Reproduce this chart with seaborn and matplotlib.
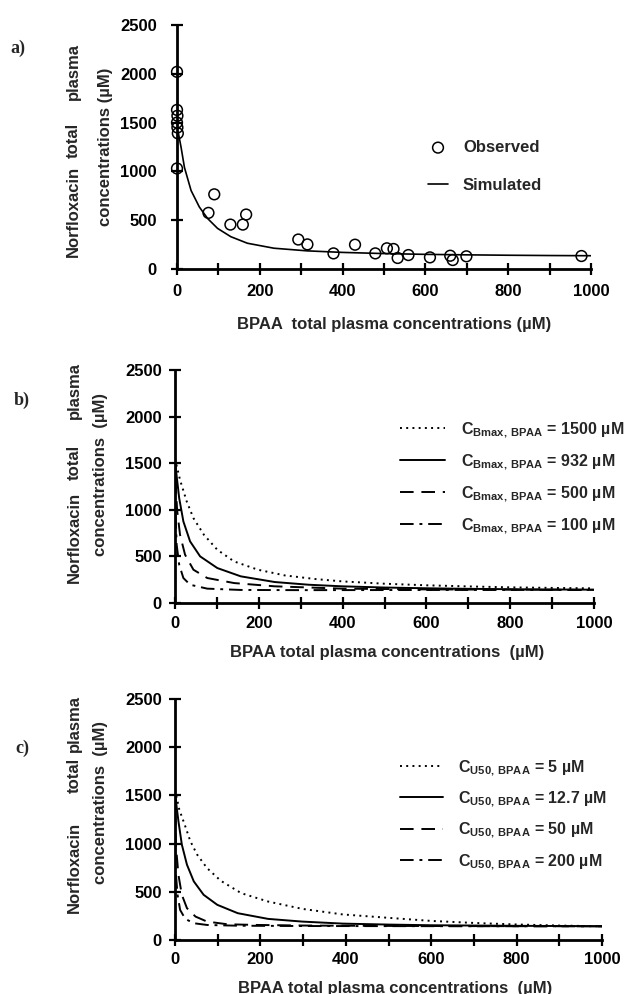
import matplotlib
matplotlib.use("Agg")
import pandas as pd
import matplotlib.pyplot as plt
import seaborn as sns

W, H = 624, 994

# a) observed points and fitted curve
obs_x = [0, 0, 1, 0, 1, 2, 0, 76, 90, 129, 159, 167, 293, 315, 378, 430,
         479, 507, 523, 533, 559, 611, 660, 666, 699, 977]
obs_y = [2020, 1630, 1570, 1500, 1450, 1390, 1030, 575, 765, 455, 455, 558,
         302, 252, 160, 249, 160, 212, 205, 113, 143, 119, 136, 92, 130, 133]
sim_x = [3, 10, 18, 34, 54, 74, 98, 130, 170, 234, 314, 400, 500, 600, 700,
         800, 900, 1000]
sim_y = [1400, 1243, 1040, 804, 635, 517, 416, 331, 264, 213, 186, 170, 158,
         150, 145, 141, 138, 136]

# b) C_Bmax,BPAA
b1500_x = [0, 12, 28, 44, 69, 101, 141, 198, 262, 335, 399, 500, 600, 700, 800, 900, 1000]
b1500_y = [1550, 1321, 1089, 911, 732, 571, 446, 357, 296, 257, 232, 207, 190, 178, 168, 162, 157]
b932_x = [0, 3, 10, 20, 36, 60, 101, 157, 238, 319, 399, 500, 600, 700, 800, 900, 1000]
b932_y = [1550, 1400, 1125, 875, 661, 500, 375, 286, 225, 196, 179, 166, 158, 152, 148, 145, 143]
b500_x = [0, 2, 5, 12, 24, 44, 77, 141, 238, 399, 600, 800, 1000]
b500_y = [1550, 1250, 1000, 732, 518, 357, 268, 214, 179, 154, 146, 143, 141]
b100_x = [0, 1, 4, 10, 20, 36, 77, 157, 300, 500, 700, 1000]
b100_y = [1550, 1000, 625, 411, 268, 196, 154, 140, 138, 139, 140, 140]

# c) C_U50,BPAA
c5_x = [0, 10, 24, 36, 52, 75, 107, 155, 218, 298, 393, 500, 600, 700, 800, 900, 1000]
c5_y = [1560, 1354, 1180, 1024, 885, 746, 615, 486, 399, 323, 265, 230, 198, 177, 161, 150, 142]
c127_x = [0, 8, 16, 28, 44, 67, 99, 147, 218, 298, 393, 500, 600, 800, 1000]
c127_y = [1520, 1233, 990, 781, 608, 469, 365, 278, 219, 191, 170, 160, 153, 147, 143]
c50_x = [0, 2, 8, 16, 28, 48, 75, 123, 194, 300, 500, 700, 1000]
c50_y = [1550, 990, 677, 469, 330, 243, 191, 163, 156, 150, 146, 144, 142]
c200_x = [0, 1, 6, 12, 24, 44, 75, 150, 300, 500, 700, 1000]
c200_y = [1550, 747, 469, 312, 219, 174, 156, 148, 145, 144, 143, 142]

b_labels = [r"C$_{\mathbf{Bmax,\,BPAA}}$ = 1500 µM", r"C$_{\mathbf{Bmax,\,BPAA}}$ = 932 µM",
            r"C$_{\mathbf{Bmax,\,BPAA}}$ = 500 µM", r"C$_{\mathbf{Bmax,\,BPAA}}$ = 100 µM"]
c_labels = [r"C$_{\mathbf{U50,\,BPAA}}$ = 5 µM", r"C$_{\mathbf{U50,\,BPAA}}$ = 12.7 µM",
            r"C$_{\mathbf{U50,\,BPAA}}$ = 50 µM", r"C$_{\mathbf{U50,\,BPAA}}$ = 200 µM"]

sns.set_theme(style="ticks")
plt.rcParams['font.family'] = ['Liberation Sans', 'DejaVu Sans']
plt.rcParams['mathtext.fontset'] = 'custom'
plt.rcParams['mathtext.rm'] = 'Liberation Sans:bold'
plt.rcParams['mathtext.bf'] = 'Liberation Sans:bold'

FS = 12
DASHES = {0: (1, 2.2), 1: "", 2: (7, 4), 3: (7, 3, 1.5, 3)}


def fx(px):
    return px / W


def fy(py):
    return 1 - py / H


def style_axes(ax, xpad, ypad):
    ax.set_xlim(0, 1000)
    ax.set_ylim(0, 2500)
    ax.set_xticks(range(0, 1001, 200))
    ax.set_xticks(range(100, 1000, 200), minor=True)
    ax.set_yticks(range(0, 2501, 500))
    for s in ['top', 'right']:
        ax.spines[s].set_visible(False)
    for s in ['left', 'bottom']:
        ax.spines[s].set_linewidth(2)
        ax.spines[s].set_color('black')
    ax.tick_params(which='both', direction='inout', length=9, width=1.6, colors='black', labelsize=FS)
    ax.tick_params(axis='x', pad=xpad)
    ax.tick_params(axis='y', pad=ypad)
    for t in ax.get_xticklabels() + ax.get_yticklabels():
        t.set_fontweight('bold')
    ax.set_xlabel('')
    ax.set_ylabel('')


def ylabel(x1, x2, y_bot, y_mid, y_top, y2, second):
    kw = dict(rotation=90, fontsize=FS, fontweight='bold', ha='center')
    fig.text(fx(x1), fy(y_bot), "Norfloxacin", va='bottom', **kw)
    fig.text(fx(x1), fy(y_mid), "total", va='center', **kw)
    fig.text(fx(x1), fy(y_top), "plasma", va='top', **kw)
    fig.text(fx(x2), fy(y2), second, va='center', **kw)


def curve_panel(ax, xs, ys):
    frames = []
    for i, (x, y) in enumerate(zip(xs, ys)):
        frames.append(pd.DataFrame({'x': x, 'y': y, 'curve': i}))
    df = pd.concat(frames)
    sns.lineplot(data=df, x='x', y='y', style='curve', dashes=DASHES, color='black',
                 linewidth=1.4, estimator=None, sort=False, ax=ax)
    handles, _ = ax.get_legend_handles_labels()
    return handles[-4:]


fig = plt.figure(figsize=(W / 100, H / 100), dpi=100)

# ---- a)
ax_a = fig.add_axes([fx(177), fy(269), fx(591) - fx(177), fy(25) - fy(269)])
sns.lineplot(x=sim_x, y=sim_y, color='black', linewidth=1.2, ax=ax_a, label='Simulated')
sns.scatterplot(x=obs_x, y=obs_y, marker='o', s=60, facecolor='none', edgecolor='black',
                linewidth=1.1, ax=ax_a, label='Observed', clip_on=False, zorder=5)
style_axes(ax_a, 6, 10)
h, l = ax_a.get_legend_handles_labels()
ax_a.legend([h[1], h[0]], ['Observed', 'Simulated'], loc='upper left',
            bbox_to_anchor=(fx(428), fy(140)), bbox_transform=fig.transFigure,
            frameon=False, borderpad=0, borderaxespad=0, handlelength=1.2,
            handletextpad=0.9, labelspacing=1.35, prop={'weight': 'bold', 'size': FS})
ylabel(73, 105, 257, 140, 43, 147, "concentrations (µM)")
fig.text(fx(394), fy(325), "BPAA  total plasma concentrations (µM)", ha='center', va='center',
         fontsize=FS, fontweight='bold')
fig.text(fx(18), fy(48), "a)", ha='center', va='center', fontsize=13, fontweight='bold',
         family='Liberation Serif')

# ---- b)
ax_b = fig.add_axes([fx(175), fy(603), fx(594) - fx(175), fy(370) - fy(603)])
hb = curve_panel(ax_b, [b1500_x, b932_x, b500_x, b100_x], [b1500_y, b932_y, b500_y, b100_y])
style_axes(ax_b, 5, 5)
ax_b.legend(hb, b_labels, loc='upper left', bbox_to_anchor=(fx(400), fy(420)),
            bbox_transform=fig.transFigure, frameon=False, borderpad=0, borderaxespad=0,
            handlelength=2.8, handletextpad=1.0, labelspacing=0.78,
            prop={'weight': 'bold', 'size': 11.5})
ylabel(74, 101, 583, 462, 362, 475, "concentrations  (µM)")
fig.text(fx(387), fy(653), "BPAA total plasma concentrations  (µM)", ha='center', va='center',
         fontsize=FS, fontweight='bold')
fig.text(fx(22), fy(400), "b)", ha='center', va='center', fontsize=13, fontweight='bold',
         family='Liberation Serif')

# ---- c)
ax_c = fig.add_axes([fx(175), fy(940), fx(602) - fx(175), fy(699) - fy(940)])
hc = curve_panel(ax_c, [c5_x, c127_x, c50_x, c200_x], [c5_y, c127_y, c50_y, c200_y])
style_axes(ax_c, 4, 5)
ax_c.legend(hc, c_labels, loc='upper left', bbox_to_anchor=(fx(400), fy(758)),
            bbox_transform=fig.transFigure, frameon=False, borderpad=0, borderaxespad=0,
            handlelength=2.7, handletextpad=0.9, labelspacing=0.74,
            prop={'weight': 'bold', 'size': 11.5})
ylabel(74, 101, 913, 775, 695, 803, "concentrations  (µM)")
fig.text(fx(395), fy(988), "BPAA total plasma concentrations  (µM)", ha='center', va='center',
         fontsize=FS, fontweight='bold')
fig.text(fx(22), fy(748), "c)", ha='center', va='center', fontsize=13, fontweight='bold',
         family='Liberation Serif')

fig.savefig("out.png", dpi=100, facecolor='white')
